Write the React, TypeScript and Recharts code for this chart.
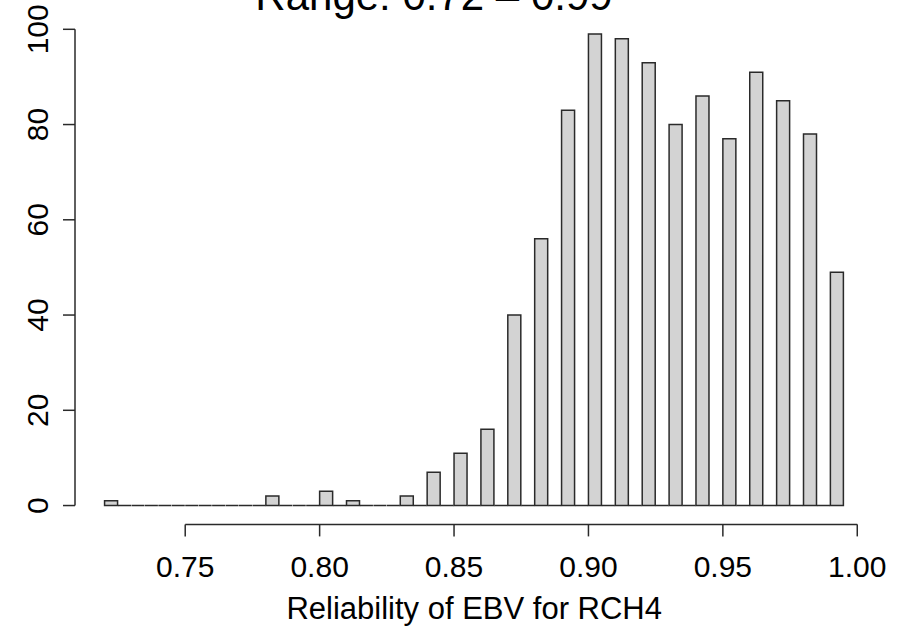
import React from "react";
import { ComposedChart, Bar, XAxis, YAxis, ReferenceLine } from "recharts";

// Histogram bins (start of each 0.005-wide bin) and their counts
const binStarts = [
  0.72, 0.725, 0.73, 0.735, 0.74, 0.745, 0.75, 0.755, 0.76, 0.765,
  0.77, 0.775, 0.78, 0.785, 0.79, 0.795, 0.8, 0.805, 0.81, 0.815,
  0.82, 0.825, 0.83, 0.835, 0.84, 0.845, 0.85, 0.855, 0.86, 0.865,
  0.87, 0.875, 0.88, 0.885, 0.89, 0.895, 0.9, 0.905, 0.91, 0.915,
  0.92, 0.925, 0.93, 0.935, 0.94, 0.945, 0.95, 0.955, 0.96, 0.965,
  0.97, 0.975, 0.98, 0.985, 0.99,
];
const counts = [
  1, 0, 0, 0, 0, 0, 0, 0, 0, 0,
  0, 0, 2, 0, 0, 0, 3, 0, 1, 0,
  0, 0, 2, 0, 7, 0, 11, 0, 16, 0,
  40, 0, 56, 0, 83, 0, 99, 0, 98, 0,
  93, 0, 80, 0, 86, 0, 77, 0, 91, 0,
  85, 0, 78, 0, 49,
];
const binWidth = 0.005;
const xTicks = [0.75, 0.8, 0.85, 0.9, 0.95, 1.0];
const yTicks = [0, 20, 40, 60, 80, 100];
const titleText = "Range: 0.72 \u2013 0.99";
const xLabelText = "Reliability of EBV for RCH4";

const data = binStarts.map((b, i) => ({ bin: b, count: counts[i] }));

// layout
const W = 898;
const H = 630;
const PLOT_L = 75;
const PLOT_R = 873.4;
const PLOT_T = 15.2;
const PLOT_B = 524.4;
const Y_AXIS_W = 60;
const X_AXIS_H = 60;
const FONT = "'Liberation Sans', Arial, Helvetica, sans-serif";
const INK = "#2a2a2a";

const dataMin = binStarts[0];
const dataMax = binStarts[binStarts.length - 1] + binWidth;
const xPad = (dataMax - dataMin) * 0.04;
const X_DOMAIN: [number, number] = [dataMin - xPad, dataMax + xPad];
const yMax = Math.max(...counts);
const Y_DOMAIN: [number, number] = [-yMax * 0.04, yMax * 1.04];

const pxPerUnit = (PLOT_R - PLOT_L) / (X_DOMAIN[1] - X_DOMAIN[0]);
const catPad = xPad * pxPerUnit;

const HistBar = (props: any) => {
  const { x, y, width, height } = props;
  const d = `M${x},${y + height} L${x},${y} L${x + width},${y} L${x + width},${y + height} Z`;
  return <path d={d} fill="#D3D3D3" stroke={INK} strokeWidth={1.5} />;
};

const YTick = (props: any) => {
  const { x, y, payload } = props;
  return (
    <text
      x={x}
      y={y}
      transform={`rotate(-90 ${x} ${y})`}
      textAnchor="middle"
      fontSize={30}
      fontFamily={FONT}
      fill="#000"
    >
      {payload.value}
    </text>
  );
};

const XTick = (props: any) => {
  const { x, y, payload } = props;
  return (
    <text x={x} y={y} textAnchor="middle" fontSize={30} fontFamily={FONT} fill="#000">
      {Number(payload.value).toFixed(2)}
    </text>
  );
};

export default function App() {
  return (
    <div style={{ position: "absolute", left: 0, top: 0, width: W, height: H, background: "#fff" }}>
      <ComposedChart
        width={W}
        height={H}
        data={data}
        barCategoryGap={0}
        barGap={0}
        margin={{
          top: PLOT_T,
          right: W - PLOT_R,
          bottom: H - PLOT_B - X_AXIS_H,
          left: PLOT_L - Y_AXIS_W,
        }}
      >
        <XAxis
          xAxisId="num"
          dataKey="bin"
          type="number"
          scale="linear"
          domain={X_DOMAIN}
          allowDataOverflow
          ticks={xTicks}
          interval={0}
          axisLine={false}
          tickSize={12}
          tickMargin={41}
          tickLine={{ stroke: INK, strokeWidth: 1.5 }}
          tick={<XTick />}
          height={X_AXIS_H}
        />
        <XAxis
          xAxisId="cat"
          dataKey="bin"
          type="category"
          hide
          height={0}
          padding={{ left: catPad, right: catPad }}
        />
        <YAxis
          type="number"
          domain={Y_DOMAIN}
          allowDataOverflow
          ticks={yTicks}
          interval={0}
          axisLine={false}
          tickSize={12}
          tickMargin={15}
          tickLine={{ stroke: INK, strokeWidth: 1.5 }}
          tick={<YTick />}
          width={Y_AXIS_W}
        />
        <Bar
          xAxisId="cat"
          dataKey="count"
          shape={<HistBar />}
          isAnimationActive={false}
        />
        <ReferenceLine
          xAxisId="num"
          segment={[
            { x: X_DOMAIN[0], y: yTicks[0] },
            { x: X_DOMAIN[0], y: yTicks[yTicks.length - 1] },
          ]}
          stroke={INK}
          strokeWidth={1.5}
          ifOverflow="visible"
        />
        <ReferenceLine
          xAxisId="num"
          segment={[
            { x: xTicks[0], y: Y_DOMAIN[0] },
            { x: xTicks[xTicks.length - 1], y: Y_DOMAIN[0] },
          ]}
          stroke={INK}
          strokeWidth={1.5}
          ifOverflow="visible"
        />
        <text x={434} y={10} textAnchor="middle" fontSize={42} fontFamily={FONT} fill="#000">
          {titleText}
        </text>
        <text x={(PLOT_L + PLOT_R) / 2} y={619} textAnchor="middle" fontSize={31} fontFamily={FONT} fill="#000">
          {xLabelText}
        </text>
      </ComposedChart>
    </div>
  );
}
